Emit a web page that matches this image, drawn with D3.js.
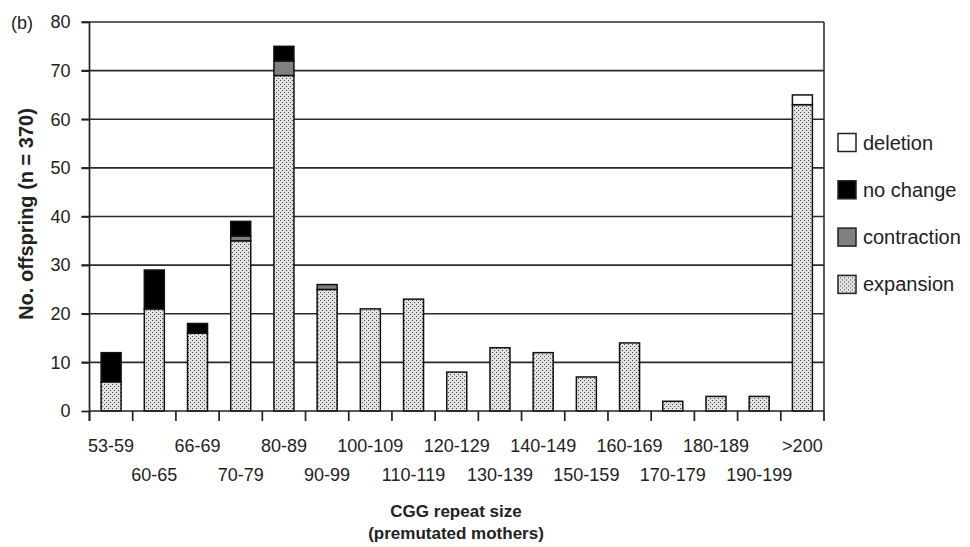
<!DOCTYPE html>
<html><head><meta charset="utf-8">
<script src="https://cdn.jsdelivr.net/npm/d3@7/dist/d3.min.js"></script>
<style>body{margin:0;background:#fff}svg{display:block}text{font-family:"Liberation Sans",Arial,sans-serif;fill:#222}</style>
</head><body>
<svg id="c" width="970" height="547"></svg>
<script>
const categories = ["53-59","60-65","66-69","70-79","80-89","90-99","100-109","110-119","120-129","130-139","140-149","150-159","160-169","170-179","180-189","190-199",">200"];
const expansion   = [6,21,16,35,69,25,21,23,8,13,12,7,14,2,3,3,63];
const contraction = [0,0,0,1,3,1,0,0,0,0,0,0,0,0,0,0,0];
const noChange    = [6,8,2,3,3,0,0,0,0,0,0,0,0,0,0,0,0];
const deletion    = [0,0,0,0,0,0,0,0,0,0,0,0,0,0,0,0,2];
const yTicks = [0,10,20,30,40,50,60,70,80];
const seriesKeys = ["expansion","contraction","noChange","deletion"];
const legendItems = [["deletion","deletion"],["noChange","no change"],["contraction","contraction"],["expansion","expansion"]];

const svg = d3.select("#c");
const defs = svg.append("defs");
const pat = defs.append("pattern").attr("id","dots").attr("width",4).attr("height",4).attr("patternUnits","userSpaceOnUse");
pat.append("rect").attr("width",4).attr("height",4).attr("fill","#e2e2e2");
pat.append("rect").attr("x",0).attr("y",0).attr("width",1).attr("height",1).attr("fill","#444");
pat.append("rect").attr("x",2).attr("y",2).attr("width",1).attr("height",1).attr("fill","#444");
const fills = {expansion:"url(#dots)", contraction:"#808080", noChange:"#000", deletion:"#fff"};

const L = 89.5, R = 824, T = 22, B = 411;
const x = d3.scaleBand().domain(categories).range([L, R]).paddingInner(0).paddingOuter(0);
const y = d3.scaleLinear().domain([0,80]).range([B, T]);

const rows = categories.map((c,i)=>({cat:c, expansion:expansion[i], contraction:contraction[i], noChange:noChange[i], deletion:deletion[i]}));
const stack = d3.stack().keys(seriesKeys)(rows);

// gridlines
svg.append("g").selectAll("line").data(yTicks.filter(d=>d>0)).join("line")
  .attr("x1",L-8).attr("x2",R).attr("y1",d=>y(d)).attr("y2",d=>y(d))
  .attr("stroke","#2a2a2a").attr("stroke-width",1.7);

// bars
const bw = 20;
svg.append("g").selectAll("g").data(stack).join("g")
  .attr("fill", d=>fills[d.key])
  .selectAll("rect").data(d=>d.filter(s=>s[1]-s[0]>0)).join("rect")
  .attr("x", d=>x(d.data.cat)+x.bandwidth()/2-bw/2)
  .attr("width", bw)
  .attr("y", d=>y(d[1]))
  .attr("height", d=>y(d[0])-y(d[1]))
  .attr("stroke","#111").attr("stroke-width",1.5);

// y axis
const yAxis = d3.axisLeft(y).tickValues(yTicks).tickSize(8).tickPadding(11).tickFormat(d3.format("d"));
const ga = svg.append("g").attr("transform",`translate(${L},0)`).call(yAxis);
ga.select(".domain").remove();
ga.selectAll(".tick line").attr("stroke","#222").attr("stroke-width",1.7);
ga.selectAll(".tick text").attr("font-size",18).attr("fill","#222").attr("font-family","Liberation Sans, Arial, sans-serif");
svg.append("line").attr("x1",L).attr("x2",L).attr("y1",T).attr("y2",B+10).attr("stroke","#222").attr("stroke-width",1.7);
// right border
svg.append("line").attr("x1",R).attr("x2",R).attr("y1",T).attr("y2",B).attr("stroke","#333").attr("stroke-width",1.6);
// baseline
svg.append("line").attr("x1",L).attr("x2",R).attr("y1",B).attr("y2",B).attr("stroke","#222").attr("stroke-width",1.7);
// x ticks at band boundaries
const bounds = categories.map(c=>x(c)).concat([R]);
svg.append("g").selectAll("line").data(bounds).join("line")
  .attr("x1",d=>d).attr("x2",d=>d).attr("y1",B).attr("y2",B+10)
  .attr("stroke","#222").attr("stroke-width",1.7);
// x labels staggered
svg.append("g").selectAll("text").data(categories).join("text")
  .attr("x",d=>x(d)+x.bandwidth()/2)
  .attr("y",(d,i)=> i%2===0 ? 452 : 481)
  .attr("text-anchor","middle").attr("font-size",18).text(d=>d);

// axis titles
svg.append("text").attr("x",456).attr("y",517).attr("text-anchor","middle").attr("font-size",17).attr("font-weight","bold").text("CGG repeat size");
svg.append("text").attr("x",456).attr("y",539).attr("text-anchor","middle").attr("font-size",17).attr("font-weight","bold").text("(premutated mothers)");
svg.append("text").attr("transform","translate(33,214) rotate(-90)").attr("text-anchor","middle").attr("font-size",20).attr("font-weight","bold").text("No. offspring (n = 370)");
svg.append("text").attr("x",11).attr("y",29).attr("font-size",18).text("(b)");

// legend
const lg = svg.append("g").selectAll("g").data(legendItems).join("g")
  .attr("transform",(d,i)=>`translate(838,${133.5+i*47.3})`);
lg.append("rect").attr("width",18).attr("height",18).attr("fill",d=>fills[d[0]]).attr("stroke","#222").attr("stroke-width",1.5);
lg.append("text").attr("x",25).attr("y",16).attr("font-size",20).text(d=>d[1]);
</script>
</body></html>
